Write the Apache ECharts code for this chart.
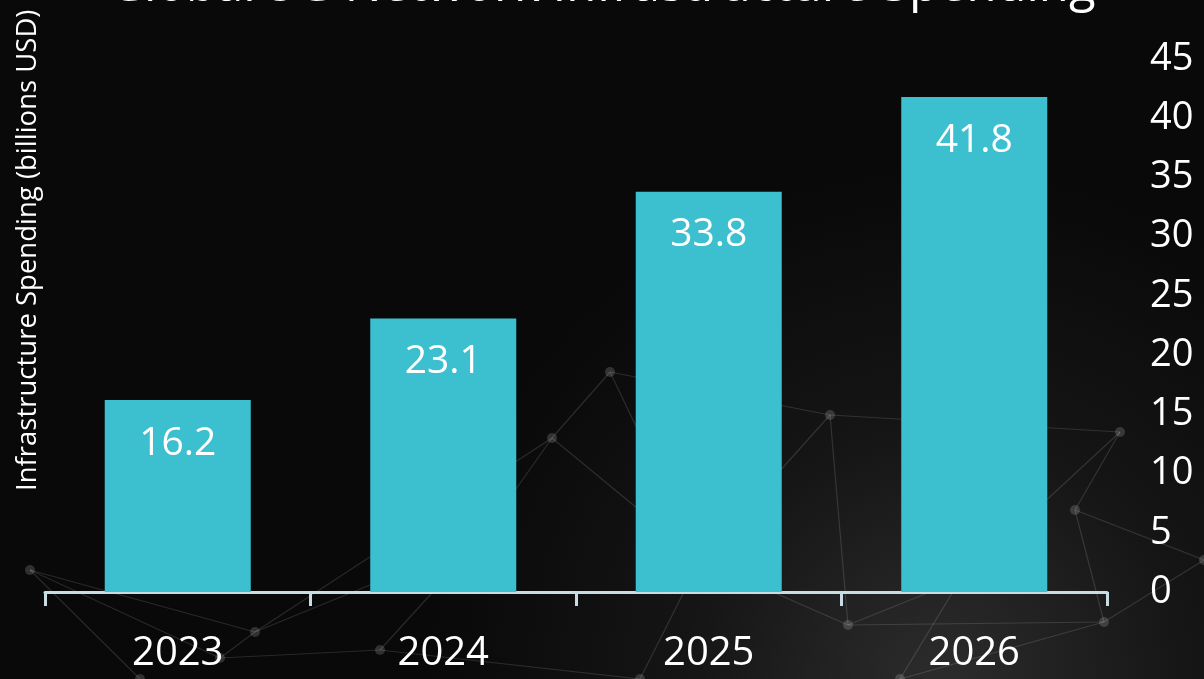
<!DOCTYPE html>
<html><head><meta charset="utf-8">
<script src="https://cdn.jsdelivr.net/npm/echarts@6/dist/echarts.min.js"></script>
<style>html,body{margin:0;padding:0;background:#0a0a0a;}#c{width:1204px;height:679px;}</style>
</head><body><div id="c"></div>
<script>
const categories = ['2023', '2024', '2025', '2026'];
const spending = [16.2, 23.1, 33.8, 41.8];
const titleText = 'Global 5G Network Infrastructure Spending';
const yAxisName = 'Infrastructure Spending (billions USD)';

// decorative background network (not data)
const bgNodes = [[30,570],[255,632],[220,658],[552,438],[610,372],[830,415],[848,625],[1120,432],[1075,510],[1104,622],[480,540],[700,560],[960,580],[380,650],[140,679],[640,679],[900,679],[1204,560]];
const bgEdges = [[0,1],[0,2],[1,2],[1,3],[3,10],[10,1],[3,4],[4,5],[5,6],[5,7],[7,8],[8,9],[6,9],[6,12],[12,7],[11,6],[11,3],[10,13],[13,2],[0,14],[11,15],[12,16],[9,17],[8,17],[4,11],[5,11],[13,15],[16,9]];

const graphics = [];
bgEdges.forEach(e => {
  const a = bgNodes[e[0]], b = bgNodes[e[1]];
  graphics.push({type: 'line', z: -10, shape: {x1: a[0], y1: a[1], x2: b[0], y2: b[1]}, style: {stroke: 'rgba(255,255,255,0.13)', lineWidth: 1.2}});
});
bgNodes.forEach(p => {
  graphics.push({type: 'circle', z: -10, shape: {cx: p[0], cy: p[1], r: 5}, style: {fill: 'rgba(255,255,255,0.16)'}});
});
graphics.push({type: 'text', left: 'center', top: -37, style: {text: titleText, fill: '#ffffff', font: '49px "Open Sans"'}});
graphics.push({type: 'text', x: 14, y: 491, rotation: Math.PI / 2, originX: 0, originY: 0,
  style: {text: yAxisName, fill: '#ffffff', font: '27.5px "Open Sans"', textAlign: 'left', textVerticalAlign: 'top'}});

const chart = echarts.init(document.getElementById('c'));
chart.setOption({
  backgroundColor: {
    type: 'radial', x: 0.78, y: 1.0, r: 0.75,
    colorStops: [{offset: 0, color: '#2c2c2c'}, {offset: 0.5, color: '#151515'}, {offset: 1, color: '#090909'}]
  },
  textStyle: {fontFamily: 'Open Sans'},
  graphic: graphics,
  grid: {left: 45, right: 97, top: 59, bottom: 87},
  xAxis: {
    type: 'category', data: categories,
    axisLine: {lineStyle: {color: '#c9dbe3', width: 3}},
    axisTick: {show: true, length: 14, lineStyle: {color: '#c9dbe3', width: 3}},
    axisLabel: {color: '#ffffff', fontSize: 40, margin: 42, fontFamily: 'Open Sans'}
  },
  yAxis: {
    type: 'value', position: 'right', min: 0, max: 45, interval: 5,
    axisLine: {show: false}, axisTick: {show: false}, splitLine: {show: false},
    axisLabel: {color: '#ffffff', fontSize: 38, margin: 43, fontFamily: 'Open Sans'}
  },
  series: [{
    type: 'bar', data: spending, barWidth: '55%',
    itemStyle: {color: '#3cbfcf'},
    label: {show: true, position: 'insideTop', distance: 24, color: '#ffffff', fontSize: 39, fontFamily: 'Open Sans'}
  }]
});
</script></body></html>
